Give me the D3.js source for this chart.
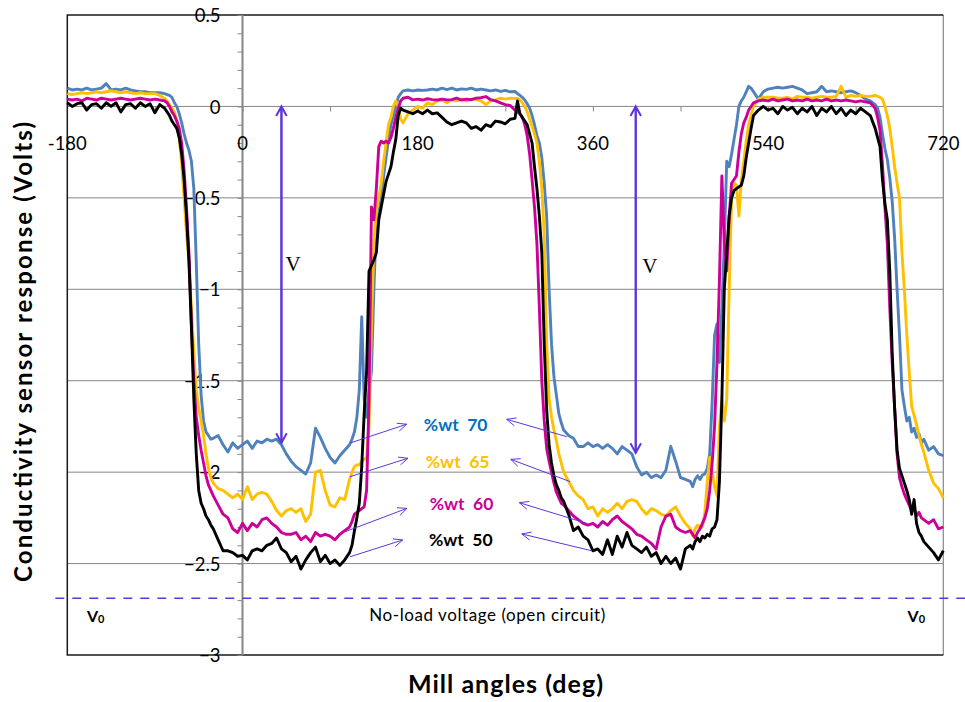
<!DOCTYPE html>
<html>
<head>
<meta charset="utf-8">
<script src="https://cdn.jsdelivr.net/npm/d3@7"></script>
<style>
  body { margin: 0; background: #fff; }
  svg { display: block; font-family: Lato, "Open Sans", sans-serif; }
</style>
</head>
<body>
<svg id="chart" width="965" height="702"></svg>
<script>
// Mill rotation angle (deg) at which each reading was taken
const angles = [
  -180,-175,-170,-165,-160,-155,-150,-145,-140,-135,-130,-125,-120,-115,-110,-105,-100,-95,-90,-85,-80,
  -77.5,-75,-72.5,-70,-67.5,-65,-62.5,-60,-57.5,-55,-52.5,-50,-47.5,-45,-42.5,-40,-37.5,-35,-32.5,-30,
  -25,-20,-15,-10,-5,0,5,10,15,20,25,30,35,40,45,50,55,60,65,70,75,80,85,90,95,100,105,110,
  112.5,115,117.5,120,122.5,125,127.5,130,132.5,135,137.5,140,142.5,145,147.5,150,152.5,155,157.5,160,162.5,165,
  170,175,180,185,190,195,200,205,210,215,220,225,230,235,240,245,250,255,260,265,270,275,280,
  282.5,285,287.5,290,292.5,295,297.5,300,302.5,305,307.5,310,312.5,315,317.5,320,322.5,325,327.5,330,
  335,340,345,350,355,360,365,370,375,380,385,390,395,400,405,410,415,420,425,430,435,440,445,450,455,460,
  462.5,465,467.5,470,472.5,475,477.5,480,482.5,485,487.5,490,492.5,495,497.5,500,502.5,505,507.5,510,512.5,515,517.5,520,522.5,525,
  530,535,540,545,550,555,560,565,570,575,580,585,590,595,600,605,610,615,620,625,630,635,640,645,650,
  652.5,655,657.5,660,662.5,665,667.5,670,672.5,675,677.5,680,682.5,685,687.5,690,692.5,695,697.5,700,
  705,710,715,720
];

// Sensor response (V) for each solids concentration
const wt70 = [
  0.10,0.09,0.095,0.09,0.10,0.09,0.095,0.10,0.125,0.09,0.095,0.09,0.10,0.09,0.085,0.08,0.08,0.075,0.075,0.075,0.07,
  0.065,0.06,0.05,0.02,0.0,-0.04,-0.09,-0.15,-0.2,-0.24,-0.3,-0.45,-0.85,-1.3,-1.58,-1.72,-1.78,-1.8,-1.82,-1.815,
  -1.8,-1.85,-1.89,-1.84,-1.87,-1.85,-1.83,-1.87,-1.83,-1.84,-1.82,-1.83,-1.82,-1.85,-1.9,-1.94,-1.97,-1.99,-2.01,-1.95,-1.76,-1.81,-1.87,-1.92,-1.95,-1.91,-1.88,-1.85,
  -1.82,-1.78,-1.7,-1.55,-1.15,-1.6,-1.7,-1.55,-1.45,-1.0,-0.64,-0.58,-0.5,-0.38,-0.28,-0.18,-0.1,-0.05,0.0,0.05,0.07,0.085,
  0.09,0.085,0.09,0.088,0.09,0.095,0.09,0.1,0.092,0.1,0.09,0.096,0.093,0.1,0.09,0.095,0.09,0.085,0.09,0.082,0.088,0.08,0.082,
  0.07,0.06,0.05,0.035,0.015,-0.01,-0.05,-0.1,-0.16,-0.2,-0.28,-0.42,-0.6,-1.0,-1.3,-1.48,-1.58,-1.68,-1.73,-1.77,
  -1.8,-1.815,-1.86,-1.86,-1.84,-1.86,-1.85,-1.87,-1.85,-1.87,-1.9,-1.86,-1.88,-1.9,-1.97,-2.015,-2.0,-2.03,-2.016,-2.03,-1.99,-1.86,-1.94,-2.03,-2.04,-2.05,
  -2.08,-2.04,-2.02,-2.04,-2.016,-2.01,-1.98,-1.9,-1.62,-1.25,-1.19,-1.4,-1.1,-0.75,-0.3,-0.33,-0.26,-0.18,-0.1,0.0,0.03,0.05,0.08,0.11,0.1,0.08,
  0.04,0.08,0.095,0.1,0.105,0.1,0.105,0.11,0.1,0.09,0.07,0.075,0.08,0.11,0.08,0.085,0.08,0.075,0.08,0.085,0.075,0.06,0.04,0.03,0.01,
  -0.01,-0.06,-0.15,-0.23,-0.29,-0.39,-0.52,-0.72,-1.0,-1.25,-1.55,-1.64,-1.72,-1.7,-1.78,-1.76,-1.81,-1.79,-1.84,-1.82,
  -1.88,-1.86,-1.9,-1.91
];
const wt65 = [
  0.07,0.065,0.07,0.075,0.07,0.075,0.08,0.075,0.08,0.085,0.08,0.075,0.08,0.075,0.07,0.075,0.07,0.07,0.07,0.06,0.045,
  0.03,0.01,-0.01,-0.03,-0.08,-0.17,-0.31,-0.5,-0.7,-0.85,-1.1,-1.35,-1.55,-1.65,-1.72,-1.8,-1.9,-1.98,-2.03,-2.06,
  -2.09,-2.1,-2.12,-2.14,-2.12,-2.15,-2.08,-2.15,-2.12,-2.11,-2.12,-2.16,-2.21,-2.24,-2.21,-2.2,-2.22,-2.2,-2.27,-2.23,-2.0,-1.99,-2.1,-2.18,-2.19,-2.14,-2.15,-2.04,
  -2.0,-1.97,-1.96,-1.96,-1.94,-1.93,-1.92,-1.75,-1.2,-0.75,-0.57,-0.5,-0.42,-0.3,-0.2,-0.1,-0.06,0.0,0.03,0.0,-0.07,-0.09,
  -0.04,-0.02,0.0,-0.01,0.02,0.01,0.03,0.035,0.02,0.036,0.03,0.04,0.03,0.036,0.04,0.03,0.01,0.03,0.036,0.045,0.04,0.045,0.044,
  0.044,0.036,0.02,0.0,-0.03,-0.07,-0.11,-0.15,-0.2,-0.3,-0.45,-0.7,-1.3,-1.6,-1.7,-1.77,-1.83,-1.9,-1.95,-2.0,
  -2.05,-2.1,-2.13,-2.15,-2.2,-2.19,-2.24,-2.2,-2.22,-2.2,-2.17,-2.2,-2.16,-2.15,-2.16,-2.2,-2.23,-2.2,-2.21,-2.23,-2.24,-2.21,-2.19,-2.24,-2.28,-2.31,
  -2.35,-2.31,-2.29,-2.3,-2.3,-2.22,-2.05,-1.92,-2.0,-2.08,-2.13,-1.75,-1.6,-1.72,-1.6,-1.0,-0.5,-0.42,-0.43,-0.6,-0.4,-0.3,-0.19,-0.1,-0.05,0.0,
  0.04,0.05,0.05,0.05,0.045,0.045,0.05,0.04,0.055,0.05,0.05,0.045,0.05,0.055,0.05,0.05,0.055,0.11,0.05,0.06,0.055,0.06,0.055,0.055,0.06,
  0.055,0.05,0.04,0.0,-0.05,-0.12,-0.22,-0.33,-0.42,-0.5,-0.8,-1.0,-1.25,-1.45,-1.64,-1.69,-1.74,-1.8,-1.85,-1.89,
  -1.99,-2.06,-2.09,-2.14
];
const wt60 = [
  0.04,0.035,0.04,0.03,0.045,0.04,0.035,0.045,0.04,0.035,0.04,0.045,0.04,0.035,0.04,0.045,0.04,0.035,0.04,0.035,0.03,
  0.02,0.0,-0.03,-0.05,-0.08,-0.12,-0.2,-0.35,-0.56,-0.8,-1.2,-1.5,-1.7,-1.8,-1.88,-1.95,-2.02,-2.07,-2.1,-2.13,
  -2.18,-2.23,-2.25,-2.31,-2.33,-2.28,-2.32,-2.28,-2.3,-2.26,-2.25,-2.28,-2.3,-2.33,-2.34,-2.34,-2.33,-2.37,-2.35,-2.38,-2.33,-2.35,-2.34,-2.35,-2.37,-2.34,-2.32,-2.3,
  -2.27,-2.23,-2.22,-2.21,-2.2,-2.19,-2.1,-1.6,-0.55,-0.62,-0.45,-0.22,-0.19,-0.2,-0.19,-0.2,-0.17,-0.12,-0.06,-0.01,0.03,0.045,
  0.05,0.036,0.04,0.035,0.042,0.037,0.035,0.04,0.036,0.037,0.045,0.035,0.04,0.037,0.045,0.048,0.054,0.037,0.03,0.02,0.01,0.005,-0.02,
  -0.03,-0.04,-0.06,-0.1,-0.16,-0.26,-0.4,-0.55,-0.75,-1.1,-1.5,-1.72,-1.87,-1.94,-2.0,-2.06,-2.11,-2.14,-2.17,-2.18,
  -2.21,-2.24,-2.26,-2.28,-2.29,-2.28,-2.3,-2.27,-2.29,-2.26,-2.24,-2.27,-2.29,-2.31,-2.34,-2.35,-2.37,-2.39,-2.42,-2.3,-2.24,-2.23,-2.3,-2.32,-2.33,-2.32,
  -2.34,-2.36,-2.33,-2.31,-2.28,-2.25,-2.2,-2.1,-1.95,-1.75,-1.4,-0.95,-0.38,-0.75,-0.9,-0.6,-0.42,-0.4,-0.38,-0.25,-0.15,-0.09,-0.06,-0.02,0.0,0.02,
  0.03,0.035,0.03,0.04,0.03,0.035,0.04,0.03,0.035,0.03,0.04,0.03,0.035,0.03,0.04,0.03,0.035,0.03,0.035,0.03,0.025,0.03,0.025,0.02,-0.01,
  -0.06,-0.13,-0.32,-0.55,-0.75,-1.1,-1.4,-1.65,-1.9,-2.03,-2.08,-2.12,-2.15,-2.18,-2.21,-2.2,-2.24,-2.22,-2.25,-2.26,
  -2.28,-2.26,-2.31,-2.3
];
const wt50 = [
  0.02,0.0,0.015,0.02,-0.02,0.01,0.015,-0.01,0.02,0.0,0.02,-0.03,0.01,0.015,-0.01,0.02,0.0,0.015,-0.035,0.01,-0.01,
  -0.03,-0.05,-0.08,-0.1,-0.12,-0.17,-0.26,-0.4,-0.6,-0.85,-1.2,-1.6,-1.9,-2.1,-2.17,-2.2,-2.24,-2.26,-2.29,-2.31,
  -2.37,-2.43,-2.43,-2.44,-2.46,-2.455,-2.48,-2.43,-2.42,-2.43,-2.4,-2.39,-2.36,-2.42,-2.44,-2.49,-2.46,-2.53,-2.48,-2.44,-2.41,-2.49,-2.455,-2.5,-2.48,-2.51,-2.48,-2.44,
  -2.4,-2.32,-2.25,-2.17,-1.97,-1.68,-1.45,-0.9,-0.87,-0.84,-0.8,-0.62,-0.55,-0.48,-0.41,-0.37,-0.33,-0.25,-0.18,-0.05,-0.01,-0.02,
  -0.03,-0.04,-0.025,-0.04,-0.02,-0.04,-0.035,-0.06,-0.085,-0.1,-0.09,-0.08,-0.09,-0.12,-0.11,-0.13,-0.1,-0.11,-0.08,-0.085,-0.095,-0.07,-0.065,
  0.03,-0.04,-0.06,-0.08,-0.1,-0.15,-0.2,-0.33,-0.45,-0.6,-0.8,-1.3,-1.66,-1.85,-1.95,-2.02,-2.07,-2.1,-2.14,-2.16,
  -2.23,-2.32,-2.3,-2.35,-2.37,-2.43,-2.42,-2.45,-2.37,-2.45,-2.35,-2.41,-2.33,-2.4,-2.42,-2.44,-2.41,-2.46,-2.44,-2.5,-2.46,-2.5,-2.47,-2.53,-2.42,-2.4,
  -2.42,-2.38,-2.36,-2.38,-2.35,-2.36,-2.34,-2.35,-2.31,-2.3,-2.26,-2.05,-1.6,-1.0,-0.8,-0.6,-0.5,-0.46,-0.45,-0.44,-0.43,-0.38,-0.28,-0.2,-0.12,-0.05,
  -0.02,0.0,-0.02,-0.01,-0.04,0.0,-0.02,-0.005,-0.04,-0.01,-0.03,0.0,-0.05,-0.01,-0.03,0.0,-0.04,-0.01,-0.05,-0.02,-0.04,-0.01,-0.03,-0.05,-0.12,
  -0.17,-0.22,-0.4,-0.53,-0.62,-0.9,-1.35,-1.65,-1.88,-1.98,-2.02,-2.06,-2.1,-2.15,-2.23,-2.15,-2.28,-2.33,-2.35,-2.38,
  -2.41,-2.44,-2.48,-2.43
];

const seriesNames  = ["%wt  70", "%wt  65", "%wt  60", "%wt  50"];
const seriesValues = [wt70, wt65, wt60, wt50];
const lineColors   = ["#4F81BD", "#FFC000", "#CC0099", "#000000"];
const labelColors  = ["#0070C0", "#FFC000", "#CC0099", "#000000"];

// Label anchor (angle, volts) and the two curve points each label points at
const labelAt   = [[219, -1.742], [221, -1.943], [225, -2.174], [224.3, -2.367]];
const leftFrom  = [[110.4, -1.841], [110.4, -2.025], [105.3, -2.326], [110.4, -2.463]];
const leftTo    = [[168.7, -1.738], [170.0, -1.924], [169.0, -2.198], [164.6, -2.371]];
const rightFrom = [[333.1, -1.806], [336.6, -2.052], [353.6, -2.28], [358.8, -2.43]];
const rightTo   = [[271.4, -1.711], [275.6, -1.93], [284.4, -2.167], [286.9, -2.338]];

const xTickLabels = [-180, 0, 180, 360, 540, 720];
const xTickMarks  = [-90, 0, 90, 180, 270, 360, 450, 540, 630];
const yTickLabels = [0.5, 0, -0.5, -1, -1.5, -2, -2.5, -3];
const gridValues  = [0, -0.5, -1, -1.5, -2, -2.5];

const noLoadVoltage = -2.69;
// Voltage swing markers: angle, bottom, and where the "V" sits
const swingAngles = [40, 404];
const swingBottom = [-1.84, -1.895];
const swingLabel  = [[52, -0.86], [418.5, -0.87]];

const W = 965, H = 702;
const svg = d3.select("#chart");
const x = d3.scaleLinear().domain([-180, 720]).range([67.3, 943.3]);
const y = d3.scaleLinear().domain([-3, 0.5]).range([655, 15]);
const [x0, x1] = x.range();
const [yb, yt] = y.range();
const gridColor = "#868686";
const annColor = "#6035DD";

// horizontal gridlines
svg.append("g").selectAll("line").data(gridValues).join("line")
  .attr("x1", x0).attr("x2", x1)
  .attr("y1", d => y(d)).attr("y2", d => y(d))
  .attr("stroke", gridColor).attr("stroke-width", 1);

// plot frame
svg.append("line").attr("x1", x1).attr("x2", x1).attr("y1", yt).attr("y2", yb)
  .attr("stroke", gridColor).attr("stroke-width", 1.2);
svg.append("path")
  .attr("d", `M${x1},${yt}H${x0}V${yb}H${x1}`)
  .attr("fill", "none").attr("stroke", "#1a1a1a").attr("stroke-width", 1.5);

// vertical axis through 0 deg with minor ticks every 0.1 V
const yAxisX = x(0);
svg.append("line").attr("x1", yAxisX).attr("x2", yAxisX).attr("y1", yt).attr("y2", yb)
  .attr("stroke", gridColor).attr("stroke-width", 2);
svg.append("g").attr("transform", `translate(${yAxisX},0)`)
  .call(d3.axisLeft(y).tickValues(d3.range(-30, 6).map(k => k / 10)).tickSize(5).tickFormat(""))
  .call(g => g.select(".domain").remove())
  .call(g => g.selectAll("line").attr("stroke", gridColor));
svg.append("g").attr("transform", `translate(${yAxisX - 22},0)`)
  .call(d3.axisLeft(y).tickValues(yTickLabels).tickSize(0).tickPadding(0).tickFormat(d3.format("")))
  .call(g => g.select(".domain").remove())
  .call(g => g.selectAll("text")
    .style("font-family", "Lato, sans-serif").style("font-size", "18.5px")
    .attr("fill", "#000").attr("dy", "0.36em"));

// horizontal axis at 0 V with ticks every 90 deg
const y0 = y(0);
svg.append("g").attr("transform", `translate(0,${y0})`)
  .call(d3.axisBottom(x).tickValues(xTickMarks).tickSize(5).tickFormat(""))
  .call(g => g.select(".domain").remove())
  .call(g => g.selectAll("line").attr("stroke", gridColor));
svg.append("g").selectAll("text").data(xTickLabels).join("text")
  .attr("x", d => x(d)).attr("y", y0 + 37)
  .attr("text-anchor", "middle").attr("dominant-baseline", "central")
  .style("font-size", "18.5px").attr("fill", "#000").text(d => d);

// no-load (open circuit) reference
svg.append("line")
  .attr("x1", x0 - 12).attr("x2", W)
  .attr("y1", y(noLoadVoltage)).attr("y2", y(noLoadVoltage))
  .attr("stroke", annColor).attr("stroke-width", 1.5).attr("stroke-dasharray", "9,8");

// series lines
const line = d3.line().x((d, i) => x(angles[i])).y(d => y(d));
svg.append("g").selectAll("path").data(seriesValues).join("path")
  .attr("d", line)
  .attr("fill", "none")
  .attr("stroke", (d, i) => lineColors[i])
  .attr("stroke-width", 2.9)
  .attr("stroke-linejoin", "round");

// arrow helper: shaft from p to q with an open head at q
function arrow(g, p, q, head, spread, width) {
  const ax = x(p[0]), ay = y(p[1]), bx = x(q[0]), by = y(q[1]);
  const ang = Math.atan2(by - ay, bx - ax);
  const h1 = [bx - head * Math.cos(ang - spread), by - head * Math.sin(ang - spread)];
  const h2 = [bx - head * Math.cos(ang + spread), by - head * Math.sin(ang + spread)];
  g.append("path")
    .attr("d", `M${ax},${ay}L${bx},${by}M${h1[0]},${h1[1]}L${bx},${by}L${h2[0]},${h2[1]}`)
    .attr("fill", "none").attr("stroke", annColor).attr("stroke-width", width);
}

// voltage swing arrows
const ann = svg.append("g");
swingAngles.forEach((a, i) => {
  arrow(ann, [a, swingBottom[i]], [a, 0], 11, 0.5, 2);
  arrow(ann, [a, 0], [a, swingBottom[i]], 11, 0.5, 2);
  ann.append("text").attr("x", x(swingLabel[i][0])).attr("y", y(swingLabel[i][1]))
    .attr("text-anchor", "middle").attr("dominant-baseline", "central")
    .style("font-family", "'Liberation Serif', 'DejaVu Serif', serif")
    .style("font-size", "21px").attr("fill", "#000").text("V");
});

// series labels and pointer arrows
seriesNames.forEach((name, i) => {
  arrow(ann, leftFrom[i], leftTo[i], 10, 0.42, 1);
  arrow(ann, rightFrom[i], rightTo[i], 10, 0.42, 1);
  ann.append("text").attr("x", x(labelAt[i][0])).attr("y", y(labelAt[i][1]))
    .attr("text-anchor", "middle").attr("dominant-baseline", "central")
    .style("white-space", "pre")
    .style("font-size", "17.5px").style("font-weight", "bold")
    .attr("fill", labelColors[i]).text(name);
});

// open-circuit labels
ann.append("text").attr("x", x(251.5)).attr("y", y(-2.78))
  .attr("text-anchor", "middle").attr("dominant-baseline", "central")
  .style("font-size", "17px").attr("textLength", 236).attr("lengthAdjust", "spacing")
  .attr("fill", "#000").text("No-load voltage (open circuit)");
[-159.8, 683.3].forEach(a => {
  const t = ann.append("text").attr("x", x(a)).attr("y", y(-2.78))
    .attr("dominant-baseline", "central").style("font-weight", "bold").attr("fill", "#000");
  t.append("tspan").style("font-size", "16px").text("V");
  t.append("tspan").style("font-size", "11px").attr("dy", 3).text("0");
});

// axis titles
svg.append("text")
  .attr("transform", `translate(22,${(yt + yb) / 2 + 17}) rotate(-90)`)
  .attr("text-anchor", "middle").attr("dominant-baseline", "central")
  .style("font-size", "24px").style("font-weight", "bold")
  .attr("textLength", 460).attr("lengthAdjust", "spacing")
  .attr("fill", "#000").text("Conductivity sensor response (Volts)");
svg.append("text")
  .attr("x", 505.5).attr("y", 683)
  .attr("text-anchor", "middle").attr("dominant-baseline", "central")
  .style("font-size", "25px").style("font-weight", "bold")
  .attr("textLength", 195).attr("lengthAdjust", "spacing")
  .attr("fill", "#000").text("Mill angles (deg)");
</script>
</body>
</html>
